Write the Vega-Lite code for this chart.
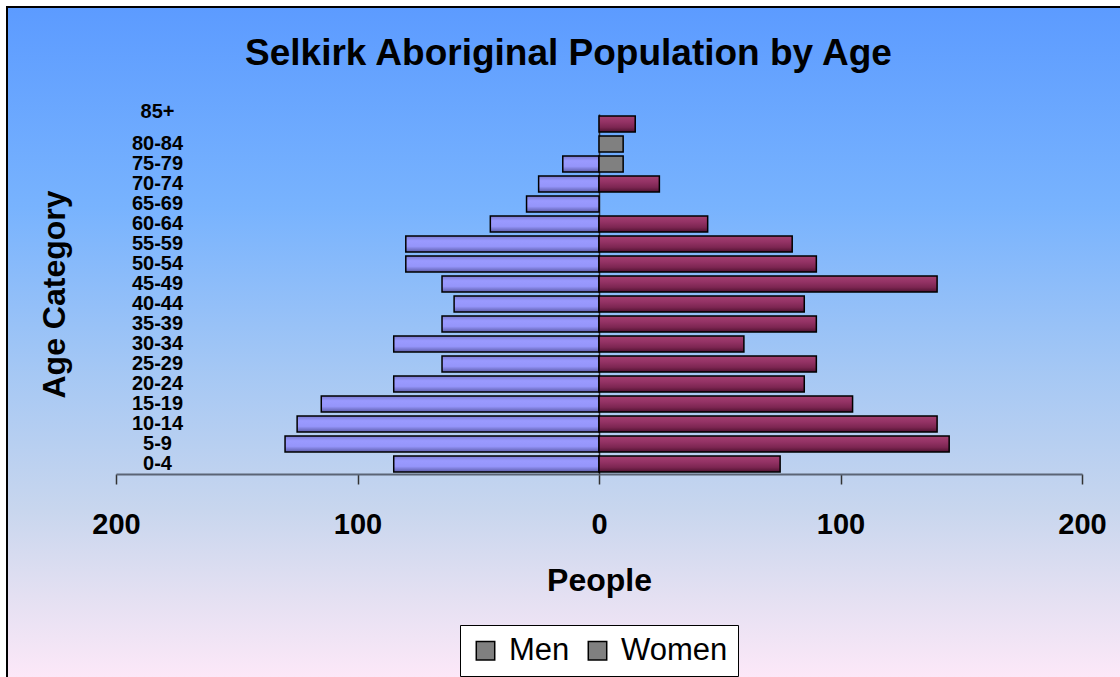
{
  "$schema": "https://vega.github.io/schema/vega-lite/v6.json",
  "autosize": {"type": "none"},
  "padding": {"left": 7, "top": 7, "right": 0, "bottom": 0},
  "width": 1113,
  "height": 670,
  "background": "white",
  "view": {
    "fill": {"gradient": "linear", "x1": 0, "y1": 0, "x2": 0, "y2": 1,
      "stops": [
        {"offset": 0, "color": "#5c9bff"},
        {"offset": 0.3, "color": "#78b3fe"},
        {"offset": 0.55, "color": "#a6c8f4"},
        {"offset": 0.75, "color": "#c8d6ee"},
        {"offset": 0.88, "color": "#e4e0f2"},
        {"offset": 1, "color": "#fce8f8"}
      ]},
    "stroke": "black",
    "strokeWidth": 2,
    "strokeDash": [1113, 1783, 670, 1]
  },
  "config": {
    "font": "Liberation Sans",
    "axis": {"grid": false}
  },
  "title": {
    "text": "Selkirk Aboriginal Population by Age",
    "fontSize": 37,
    "fontWeight": "bold",
    "font": "Liberation Sans",
    "color": "black",
    "anchor": "middle",
    "frame": "group",
    "baseline": "middle",
    "offset": -84,
    "dx": 5
  },
  "data": {
    "values": [
      {"age": "0-4", "sex": "Men", "people": 85},
      {"age": "5-9", "sex": "Men", "people": 130},
      {"age": "10-14", "sex": "Men", "people": 125},
      {"age": "15-19", "sex": "Men", "people": 115},
      {"age": "20-24", "sex": "Men", "people": 85},
      {"age": "25-29", "sex": "Men", "people": 65},
      {"age": "30-34", "sex": "Men", "people": 85},
      {"age": "35-39", "sex": "Men", "people": 65},
      {"age": "40-44", "sex": "Men", "people": 60},
      {"age": "45-49", "sex": "Men", "people": 65},
      {"age": "50-54", "sex": "Men", "people": 80},
      {"age": "55-59", "sex": "Men", "people": 80},
      {"age": "60-64", "sex": "Men", "people": 45},
      {"age": "65-69", "sex": "Men", "people": 30},
      {"age": "70-74", "sex": "Men", "people": 25},
      {"age": "75-79", "sex": "Men", "people": 15},
      {"age": "80-84", "sex": "Men", "people": 0},
      {"age": "85+", "sex": "Men", "people": 0},
      {"age": "0-4", "sex": "Women", "people": 75},
      {"age": "5-9", "sex": "Women", "people": 145},
      {"age": "10-14", "sex": "Women", "people": 140},
      {"age": "15-19", "sex": "Women", "people": 105},
      {"age": "20-24", "sex": "Women", "people": 85},
      {"age": "25-29", "sex": "Women", "people": 90},
      {"age": "30-34", "sex": "Women", "people": 60},
      {"age": "35-39", "sex": "Women", "people": 90},
      {"age": "40-44", "sex": "Women", "people": 85},
      {"age": "45-49", "sex": "Women", "people": 140},
      {"age": "50-54", "sex": "Women", "people": 90},
      {"age": "55-59", "sex": "Women", "people": 80},
      {"age": "60-64", "sex": "Women", "people": 45},
      {"age": "65-69", "sex": "Women", "people": 0},
      {"age": "70-74", "sex": "Women", "people": 25},
      {"age": "75-79", "sex": "Women", "people": 10},
      {"age": "80-84", "sex": "Women", "people": 10},
      {"age": "85+", "sex": "Women", "people": 15}
    ]
  },
  "transform": [
    {"calculate": "datum.sex === 'Men' ? -datum.people : datum.people", "as": "value"}
  ],
  "encoding": {
    "x": {
      "field": "value", "type": "quantitative",
      "scale": {"domain": [-200, 200], "range": [109, 1075], "nice": false},
      "axis": {
        "values": [-200, -100, 0, 100, 200],
        "labelExpr": "abs(datum.value)",
        "offset": -203,
        "title": "People",
        "titleFontSize": 32,
        "titleFontWeight": "bold",
        "titleColor": "black",
        "titlePadding": 26,
        "labelFontSize": 29,
        "labelFontWeight": "bold",
        "labelColor": "black",
        "labelPadding": 26,
        "tickSize": 10,
        "tickColor": "#333333",
        "tickWidth": 1.5,
        "domainColor": "#5b6475",
        "domainWidth": 2,
        "labelFlush": false
      }
    },
    "y": {
      "field": "age", "type": "nominal",
      "sort": ["85+", "80-84", "75-79", "70-74", "65-69", "60-64", "55-59", "50-54", "45-49", "40-44", "35-39", "30-34", "25-29", "20-24", "15-19", "10-14", "5-9", "0-4"],
      "scale": {"range": [107, 467], "paddingInner": 0.2, "paddingOuter": 0.1},
      "axis": {
        "offset": -592,
        "ticks": false,
        "tickSize": 0,
        "labelPadding": 442,
        "labelAlign": "center",
        "labelBaseline": "middle",
        "labelFontSize": 20,
        "labelFontWeight": "bold",
        "labelColor": "black",
        "labelOffset": {"condition": {"test": "datum.value === '85+'", "value": -12}, "value": 0},
        "domainColor": "#333333",
        "domainWidth": 1.5,
        "title": "Age Category",
        "titleFontSize": 32,
        "titleFontWeight": "bold",
        "titleColor": "black",
        "titleAngle": -90,
        "titleAlign": "center",
        "titleBaseline": "middle",
        "titleX": -545,
        "titleY": 287
      }
    }
  },
  "layer": [
    {
      "mark": {"type": "bar", "opacity": 0},
      "encoding": {
        "color": {
          "field": "sex", "type": "nominal",
          "scale": {"domain": ["Men", "Women"], "range": ["#808080", "#808080"]},
          "legend": {
            "title": null,
            "orient": "none",
            "legendX": 453,
            "legendY": 618,
            "direction": "horizontal",
            "symbolType": "square",
            "symbolSize": 340,
            "symbolOpacity": 1,
            "symbolFillColor": "#808080",
            "symbolStrokeColor": "black",
            "symbolStrokeWidth": 1.5,
            "labelFontSize": 31,
            "labelFont": "Liberation Sans",
            "labelColor": "black",
            "labelOffset": 8,
            "columnPadding": 12,
            "padding": 10,
            "strokeColor": "black",
            "fillColor": "white",
            "encode": {"symbols": {"update": {"fill": {"value": "#808080"}, "stroke": {"value": "black"}, "opacity": {"value": 1}}}}
          }
        }
      }
    },
    {
      "transform": [{"filter": "datum.sex === 'Men' && datum.people > 0"}],
      "mark": {
        "type": "bar", "stroke": "black", "strokeWidth": 1.5,
        "fill": {"gradient": "linear", "x1": 0, "y1": 0, "x2": 0, "y2": 1,
          "stops": [
            {"offset": 0, "color": "#7a7ad0"},
            {"offset": 0.3, "color": "#9a9aff"},
            {"offset": 0.65, "color": "#9595fa"},
            {"offset": 1, "color": "#5c5ca8"}
          ]}
      }
    },
    {
      "transform": [{"filter": "datum.sex === 'Women' && datum.people > 0 && datum.age !== '75-79' && datum.age !== '80-84'"}],
      "mark": {
        "type": "bar", "stroke": "black", "strokeWidth": 1.5,
        "fill": {"gradient": "linear", "x1": 0, "y1": 0, "x2": 0, "y2": 1,
          "stops": [
            {"offset": 0, "color": "#a3406f"},
            {"offset": 0.35, "color": "#953366"},
            {"offset": 0.7, "color": "#7d2652"},
            {"offset": 1, "color": "#4e1230"}
          ]}
      }
    },
    {
      "transform": [{"filter": "datum.sex === 'Women' && (datum.age === '75-79' || datum.age === '80-84')"}],
      "mark": {"type": "bar", "stroke": "black", "strokeWidth": 1.5, "fill": "#808080"}
    }
  ]
}
